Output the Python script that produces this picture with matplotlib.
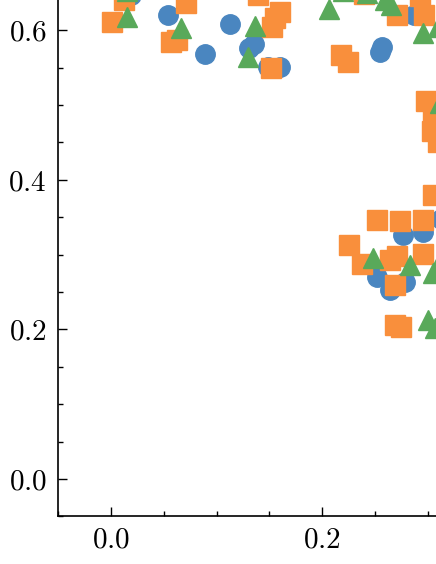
"""
    Scatter of three point groups (circles, squares, triangles), cropped view.
"""

import matplotlib
matplotlib.use("Agg")
import matplotlib.pyplot as plt
from matplotlib.ticker import AutoMinorLocator, MultipleLocator


# Group 1 : circles
circ_x = [0.019, 0.0543, 0.0888, 0.1125, 0.1308, 0.1355, 0.149, 0.160,
          0.2547, 0.2569, 0.287, 0.313, 0.2768, 0.2957, 0.2526, 0.264, 0.2787]
circ_y = [0.647, 0.621, 0.568, 0.609, 0.576, 0.582, 0.551, 0.551,
          0.571, 0.578, 0.620, 0.348, 0.326, 0.330, 0.2705, 0.253, 0.263]

# Group 2 : squares
sq_x = [0.001, 0.0123, 0.0711, 0.0569, 0.0626, 0.152, 0.139, 0.160, 0.1526,
        0.1555, 0.240, 0.271, 0.2925, 0.2967, 0.218, 0.2245, 0.2986, 0.305,
        0.304, 0.310, 0.3055, 0.2518, 0.2742, 0.2957, 0.2253, 0.2376, 0.2645,
        0.2708, 0.2695, 0.296, 0.2695, 0.2746]
sq_y = [0.6115, 0.6405, 0.6365, 0.5844, 0.587, 0.5496, 0.647, 0.6245, 0.6044,
        0.6165, 0.6486, 0.620, 0.6455, 0.6205, 0.5666, 0.5576, 0.5055, 0.4939,
        0.4654, 0.4507, 0.3804, 0.3464, 0.345, 0.346, 0.3129, 0.2872, 0.2929,
        0.2978, 0.2594, 0.3009, 0.2055, 0.2033]

# Group 3 : triangles
tri_x = [0.0152, 0.0155, 0.0666, 0.1365, 0.1301, 0.2066, 0.220, 0.2427,
         0.2597, 0.2654, 0.2955, 0.310, 0.312, 0.2482, 0.2837, 0.3052,
         0.312, 0.3008, 0.3071]
tri_y = [0.652, 0.6178, 0.6034, 0.6055, 0.5643, 0.6285, 0.6526, 0.650,
         0.6405, 0.6339, 0.5964, 0.6048, 0.5028, 0.2958, 0.2868, 0.2755,
         0.2915, 0.2126, 0.2019]

blue = '#4a86c0'
orange = '#f98f3c'
green = '#59a95a'
msize = 14
fontsize = 21

plt.rcParams.update({
    "font.size": fontsize,
    "font.family": "serif",
    "font.serif": ["cmr10"],
    "mathtext.fontset": "cm",
    "axes.formatter.use_mathtext": True,
})

fig = plt.figure(figsize=(4.36, 5.64), dpi=100)
# axes run past the right and top edge of the picture (cropped view)
ax = fig.add_axes([58.25 / 436, 47.6 / 564, 422.0 / 436, 560.9 / 564])

ax.plot(circ_x, circ_y, 'o', color=blue, markersize=msize,
        markeredgewidth=1, markeredgecolor=blue, zorder=2)
ax.plot(sq_x, sq_y, 's', color=orange, markersize=msize,
        markeredgewidth=1, markeredgecolor=orange, zorder=3)
ax.plot(tri_x, tri_y, '^', color=green, markersize=msize,
        markeredgewidth=1, markeredgecolor=green, zorder=4)

ax.set_xlim(-0.05, 0.35)
ax.set_ylim(-0.05, 0.7)

ax.xaxis.set_major_locator(MultipleLocator(0.2))
ax.yaxis.set_major_locator(MultipleLocator(0.2))
ax.xaxis.set_minor_locator(AutoMinorLocator(4))
ax.yaxis.set_minor_locator(AutoMinorLocator(4))

ax.tick_params(which='both', direction='in', top=True, right=True)
ax.tick_params(which='major', length=6.8, width=1.0)
ax.tick_params(which='minor', length=3.8, width=1.0)
ax.tick_params(axis='x', pad=7.4)
ax.tick_params(axis='y', pad=8.3)
for sp in ax.spines.values():
    sp.set_linewidth(1.2)

# Export:
fig.savefig('out.png', dpi=100)
